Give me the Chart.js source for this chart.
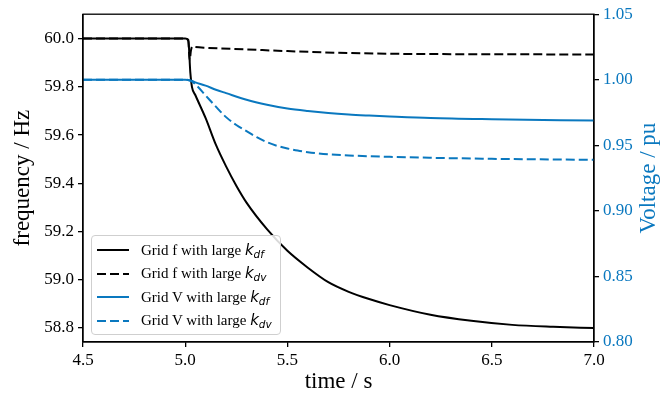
<!DOCTYPE html>
<html>
<head>
<meta charset="utf-8">
<script src="https://cdn.jsdelivr.net/npm/chart.js@4/dist/chart.umd.min.js"></script>
<style>
  body { margin: 0; background: #fff; }
  #wrap { position: relative; width: 669px; height: 398px; }
  #legend {
    position: absolute; left: 91px; top: 235px; width: 188px; height: 98px;
    border: 1px solid #cfcfcf; border-radius: 4px; background: rgba(255,255,255,0.85);
    font-family: "Liberation Serif", "DejaVu Serif", serif; font-size: 15px; color: #000;
  }
  .row { position: absolute; left: 5px; height: 20px; display: flex; align-items: center; }
  .sample { width: 32px; height: 0; margin-right: 12px; }
  .k { font-family: "DejaVu Sans", sans-serif; font-style: italic; font-size: 15px; }
  .k sub { font-size: 10.5px; vertical-align: -3px; }
</style>
</head>
<body>
<div id="wrap">
  <canvas id="chart" width="669" height="398"></canvas>
  <div id="legend"></div>
</div>
<script>
// Données
const timeFreqKdf = [4.5, 5.0, 5.015, 5.025, 5.033, 5.05, 5.1, 5.15, 5.2, 5.25, 5.3, 5.4, 5.5, 5.6, 5.7, 5.8, 5.9, 6.0, 6.2, 6.4, 6.6, 6.8, 7.0];
const freqKdf = [60.0, 60.0, 59.995, 59.86, 59.80, 59.765, 59.67, 59.56, 59.47, 59.39, 59.32, 59.21, 59.12, 59.05, 58.99, 58.95, 58.92, 58.895, 58.855, 58.83, 58.813, 58.805, 58.80];

const timeFreqKdv = [4.5, 5.0, 5.015, 5.022, 5.028, 5.035, 5.05, 5.1, 5.3, 5.5, 5.8, 6.0, 6.5, 7.0];
const freqKdv = [60.0, 60.0, 59.99, 59.91, 59.95, 59.967, 59.965, 59.962, 59.955, 59.948, 59.940, 59.937, 59.935, 59.934];

const timeVoltKdf = [4.5, 5.0, 5.03, 5.05, 5.1, 5.15, 5.2, 5.3, 5.4, 5.5, 5.6, 5.7, 5.8, 5.9, 6.0, 6.2, 6.5, 7.0];
const voltKdf = [1.0, 1.0, 0.9992, 0.9980, 0.9955, 0.9924, 0.9898, 0.9847, 0.9809, 0.9780, 0.9761, 0.9746, 0.9735, 0.9727, 0.9720, 0.9708, 0.9699, 0.9689];

const timeVoltKdv = [4.5, 5.0, 5.03, 5.05, 5.1, 5.15, 5.2, 5.25, 5.3, 5.35, 5.4, 5.45, 5.5, 5.55, 5.6, 5.7, 5.8, 6.0, 6.2, 6.5, 7.0];
const voltKdv = [1.0, 1.0, 0.999, 0.9965, 0.988, 0.9795, 0.9715, 0.9655, 0.9608, 0.9562, 0.9524, 0.9496, 0.9476, 0.9460, 0.9448, 0.9432, 0.9423, 0.9412, 0.9405, 0.9397, 0.9389];

const timeTicks = [4.5, 5.0, 5.5, 6.0, 6.5, 7.0];
const freqTicks = [58.8, 59.0, 59.2, 59.4, 59.6, 59.8, 60.0];
const voltTicks = [0.80, 0.85, 0.90, 0.95, 1.00, 1.05];

const labels = [
  ['Grid f with large ', 'df'],
  ['Grid f with large ', 'dv'],
  ['Grid V with large ', 'df'],
  ['Grid V with large ', 'dv']
];

const BLUE = '#0a78bf';
const SERIF = '"Liberation Serif", "DejaVu Serif", serif';

function toPoints(xs, ys) {
  return xs.map((x, i) => ({ x: x, y: ys[i] }));
}

function line(label, xs, ys, color, dashed, axis, order) {
  return {
    label: label.join('k_'),
    data: toPoints(xs, ys),
    borderColor: color,
    borderWidth: 2,
    borderDash: dashed ? [9, 4] : [],
    pointRadius: 0,
    cubicInterpolationMode: 'monotone',
    fill: false,
    yAxisID: axis,
    order: order
  };
}

// Cadre complet + titre de l'axe de droite (lu de bas en haut)
const framePlugin = {
  id: 'frame',
  afterDraw(chart) {
    const { ctx, chartArea: a } = chart;
    ctx.save();
    ctx.strokeStyle = '#000';
    ctx.lineWidth = 1.3;
    ctx.strokeRect(a.left, a.top, a.right - a.left, a.bottom - a.top);
    ctx.translate(649, (a.top + a.bottom) / 2);
    ctx.rotate(-Math.PI / 2);
    ctx.fillStyle = BLUE;
    ctx.font = '23px ' + SERIF;
    ctx.textAlign = 'center';
    ctx.textBaseline = 'middle';
    ctx.fillText('Voltage / pu', 0, 0);
    ctx.restore();
  }
};

const tickGrid = { drawOnChartArea: false, drawTicks: true, tickLength: 5, color: '#000', lineWidth: 1.3 };
const tickBorder = { display: true, color: '#000', width: 1.3 };

new Chart(document.getElementById('chart'), {
  type: 'line',
  data: {
    datasets: [
      line(labels[0], timeFreqKdf, freqKdf, '#000', false, 'yF', 4),
      line(labels[1], timeFreqKdv, freqKdv, '#000', true, 'yF', 3),
      line(labels[2], timeVoltKdf, voltKdf, BLUE, false, 'yV', 2),
      line(labels[3], timeVoltKdv, voltKdv, BLUE, true, 'yV', 1)
    ]
  },
  options: {
    responsive: false,
    animation: false,
    layout: { padding: { top: 12, left: 0, right: 0, bottom: 0 } },
    plugins: { legend: { display: false }, tooltip: { enabled: false } },
    scales: {
      x: {
        type: 'linear', min: 4.5, max: 7.0,
        afterBuildTicks: s => { s.ticks = timeTicks.map(v => ({ value: v })); },
        afterFit: s => { s.height = 56; },
        grid: tickGrid, border: tickBorder,
        ticks: { color: '#000', padding: 3, maxRotation: 0, font: { family: SERIF, size: 17 }, callback: v => v.toFixed(1) },
        title: { display: true, text: 'time / s', color: '#000', padding: { top: 0, bottom: 2 }, font: { family: SERIF, size: 23, lineHeight: 1.2 } }
      },
      yF: {
        position: 'left', min: 58.742, max: 60.101,
        afterBuildTicks: s => { s.ticks = freqTicks.map(v => ({ value: v })); },
        afterFit: s => { s.width = 83; },
        grid: tickGrid, border: tickBorder,
        ticks: { color: '#000', padding: 4, font: { family: SERIF, size: 17 }, callback: v => v.toFixed(1) },
        title: { display: true, text: 'frequency / Hz', color: '#000', padding: { top: 9, bottom: 0 }, font: { family: SERIF, size: 23, lineHeight: 1.2 } }
      },
      yV: {
        position: 'right', min: 0.80, max: 1.05,
        afterBuildTicks: s => { s.ticks = voltTicks.map(v => ({ value: v })); },
        afterFit: s => { s.width = 75; },
        grid: tickGrid, border: tickBorder,
        ticks: { color: BLUE, padding: 4, font: { family: SERIF, size: 17 }, callback: v => v.toFixed(2) }
      }
    }
  },
  plugins: [framePlugin]
});

// Légende HTML (indices en italique)
const legend = document.getElementById('legend');
const legendStyles = [
  ['#000', 'solid'], ['#000', 'dashed'], [BLUE, 'solid'], [BLUE, 'dashed']
];
labels.forEach((lab, i) => {
  const row = document.createElement('div');
  row.className = 'row';
  row.style.top = (4 + i * 23.5) + 'px';
  const sample = document.createElement('div');
  sample.className = 'sample';
  if (legendStyles[i][1] === 'solid') {
    sample.style.borderTop = '2px solid ' + legendStyles[i][0];
  } else {
    sample.style.height = '2px';
    sample.style.background = `repeating-linear-gradient(90deg, ${legendStyles[i][0]} 0 9px, transparent 9px 13px)`;
  }
  const text = document.createElement('span');
  text.innerHTML = lab[0] + '<span class="k">k<sub>' + lab[1] + '</sub></span>';
  row.appendChild(sample);
  row.appendChild(text);
  legend.appendChild(row);
});
</script>
</body>
</html>
